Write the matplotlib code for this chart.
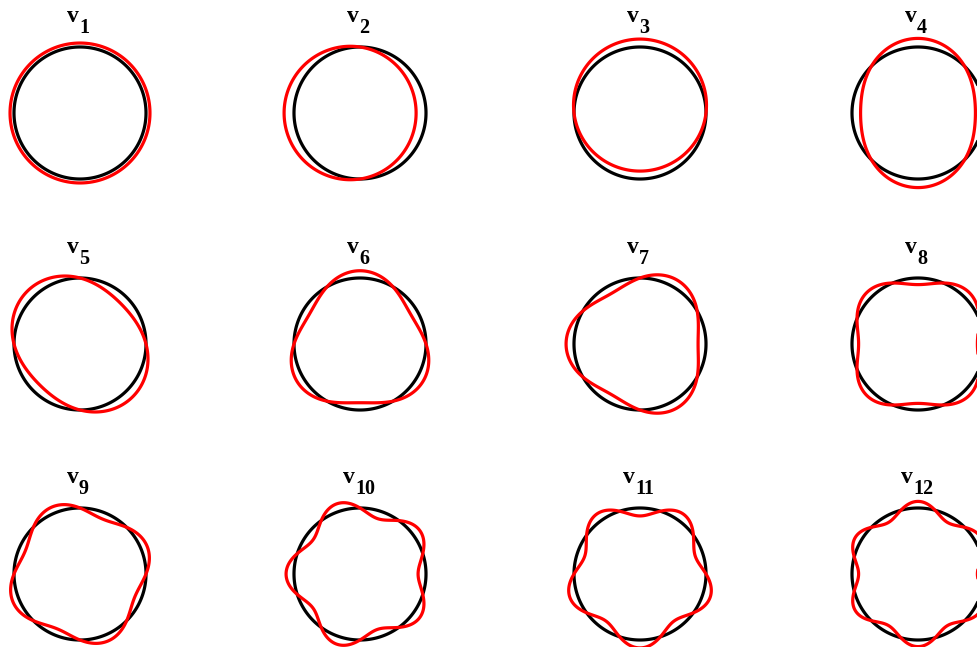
import numpy as np
import matplotlib
matplotlib.use("Agg")
import matplotlib.pyplot as plt
from matplotlib.patches import Polygon

# Fourier mode shapes of a ring: r(t) = 1 + c*cos(k t) + s*sin(k t)
labels = ['1', '2', '3', '4', '5', '6', '7', '8', '9', '10', '11', '12']
modes = [0, 1, 1, 2, 2, 3, 3, 4, 4, 5, 5, 6]
cos_amp = [0.06, -0.15, 0.0, -0.13, 0.0, 0.0, -0.12, -0.10, 0.0, -0.12, 0.0, -0.10]
sin_amp = [0.0, 0.0, 0.12, 0.0, -0.13, -0.11, 0.0, 0.0, 0.10, 0.0, -0.12, 0.0]

W, H = 978, 647
col_x = [80, 360, 640, 918]      # panel centres, px
row_y = [113, 344, 574]
unit = 66.0                      # px per unit radius
box = 200.0                      # axes size, px

fig = plt.figure(figsize=(W / 100, H / 100), dpi=100)
t = np.linspace(0, 2 * np.pi, 720, endpoint=False)
font = dict(family='Liberation Serif', weight='bold', color='black')

for i, lab in enumerate(labels):
    r, c = divmod(i, 4)
    cx, cy = col_x[c], row_y[r]
    ax = fig.add_axes([(cx - box / 2) / W, (H - cy - box / 2) / H, box / W, box / H])
    half = box / 2 / unit
    ax.set_xlim(-half, half)
    ax.set_ylim(-half, half)
    ax.axis('off')

    k = modes[i]
    rad = 1 + cos_amp[i] * np.cos(k * t) + sin_amp[i] * np.sin(k * t)
    ring = np.column_stack([np.cos(t), np.sin(t)])
    shape = np.column_stack([rad * np.cos(t), rad * np.sin(t)])
    ax.add_patch(Polygon(ring, closed=True, fill=False, edgecolor='black', lw=2.3))
    ax.add_patch(Polygon(shape, closed=True, fill=False, edgecolor='#ff0000', lw=2.3))

    # title: bold "v" with a lowered index
    width = 12 + 8 * len(lab)
    left = -3 - width / 2
    ax.text(left / unit, 91 / unit, 'v', fontsize=17, ha='left', va='baseline',
            clip_on=False, **font)
    ax.text((left + 12) / unit, 80 / unit, lab, fontsize=14.5, ha='left',
            va='baseline', clip_on=False, **font)

fig.savefig('out.png', dpi=100)
